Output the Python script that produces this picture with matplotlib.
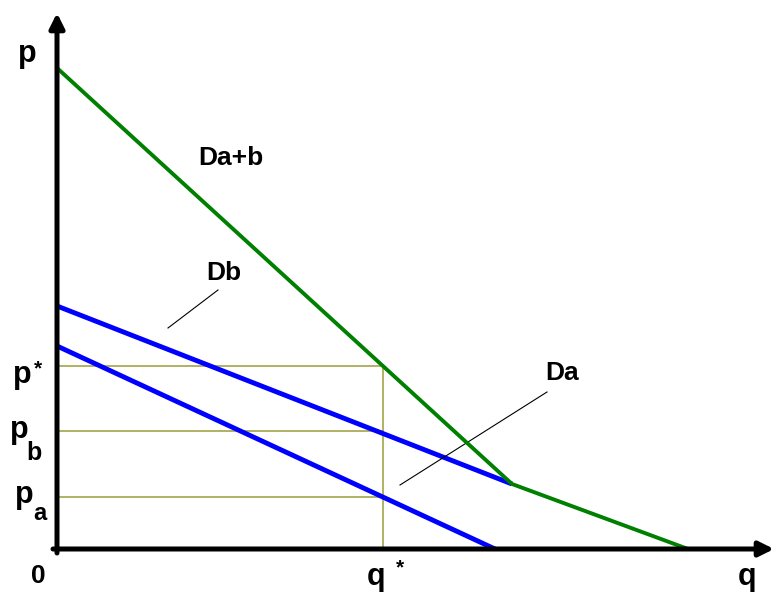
import matplotlib.pyplot as plt

# demand curves (q, p)
da_q = [0, 438]
da_p = [203, 0]
db_q = [0, 455]
db_p = [243, 65]
dab_q = [0, 455, 631]
dab_p = [481, 65, 0]

# equilibrium values
q_star = 326
p_star = 183
p_b = 118
p_a = 52

plt.rcParams['font.family'] = ['Liberation Sans', 'DejaVu Sans']

fig = plt.figure(figsize=(7.74, 5.94), dpi=100)
ax = fig.add_axes([0, 0, 1, 1])
ax.set_xlim(-57, 717)
ax.set_ylim(-45, 549)
ax.axis('off')

# guide lines
olive = '#9c9c3a'
for pv in [p_star, p_b, p_a]:
    ax.plot([0, q_star], [pv, pv], color=olive, lw=1.1, zorder=1)
ax.plot([q_star, q_star], [0, p_star], color=olive, lw=1.1, zorder=1)

# curves
ax.plot(da_q, da_p, color='#0000ff', lw=3.5, solid_capstyle='butt', zorder=2)
ax.plot(db_q, db_p, color='#0000ff', lw=3.5, solid_capstyle='butt', zorder=2)
ax.plot(dab_q, dab_p, color='#008000', lw=2.8, solid_capstyle='butt', zorder=3)

# axes with arrows
ax.annotate('', xy=(0, 536), xytext=(0, -4),
            arrowprops=dict(arrowstyle='-|>', lw=3.6, color='black', mutation_scale=22,
                            shrinkA=0, shrinkB=0), zorder=4)
ax.annotate('', xy=(717, 0), xytext=(-4, 0),
            arrowprops=dict(arrowstyle='-|>', lw=3.6, color='black', mutation_scale=22,
                            shrinkA=0, shrinkB=0), zorder=4)

# pointer lines
ax.plot([111, 161], [221, 259], color='black', lw=0.8)
ax.plot([343, 490], [64, 157], color='black', lw=0.8)

def label(x, y, s, size):
    ax.text(x, y, s, fontsize=size, fontweight='bold', color='black',
            ha='center', va='baseline')

label(174, 384, 'Da+b', 19)
label(167, 269, 'Db', 19)
label(505, 169, 'Da', 19)
label(-30, 487, 'p', 22)
label(-19, -34, '0', 19)
label(690, -36, 'q', 22)
label(319, -36, 'q', 22)
label(343, -24, '*', 15)
# price labels
label(-34.5, 166, 'p', 22)
label(-19.5, 175, '*', 15)
label(-37.5, 111, 'p', 22)
label(-23.5, 89, 'b', 18)
label(-32.5, 46, 'p', 22)
label(-17, 29, 'a', 17)

fig.savefig('out.png', dpi=100)
